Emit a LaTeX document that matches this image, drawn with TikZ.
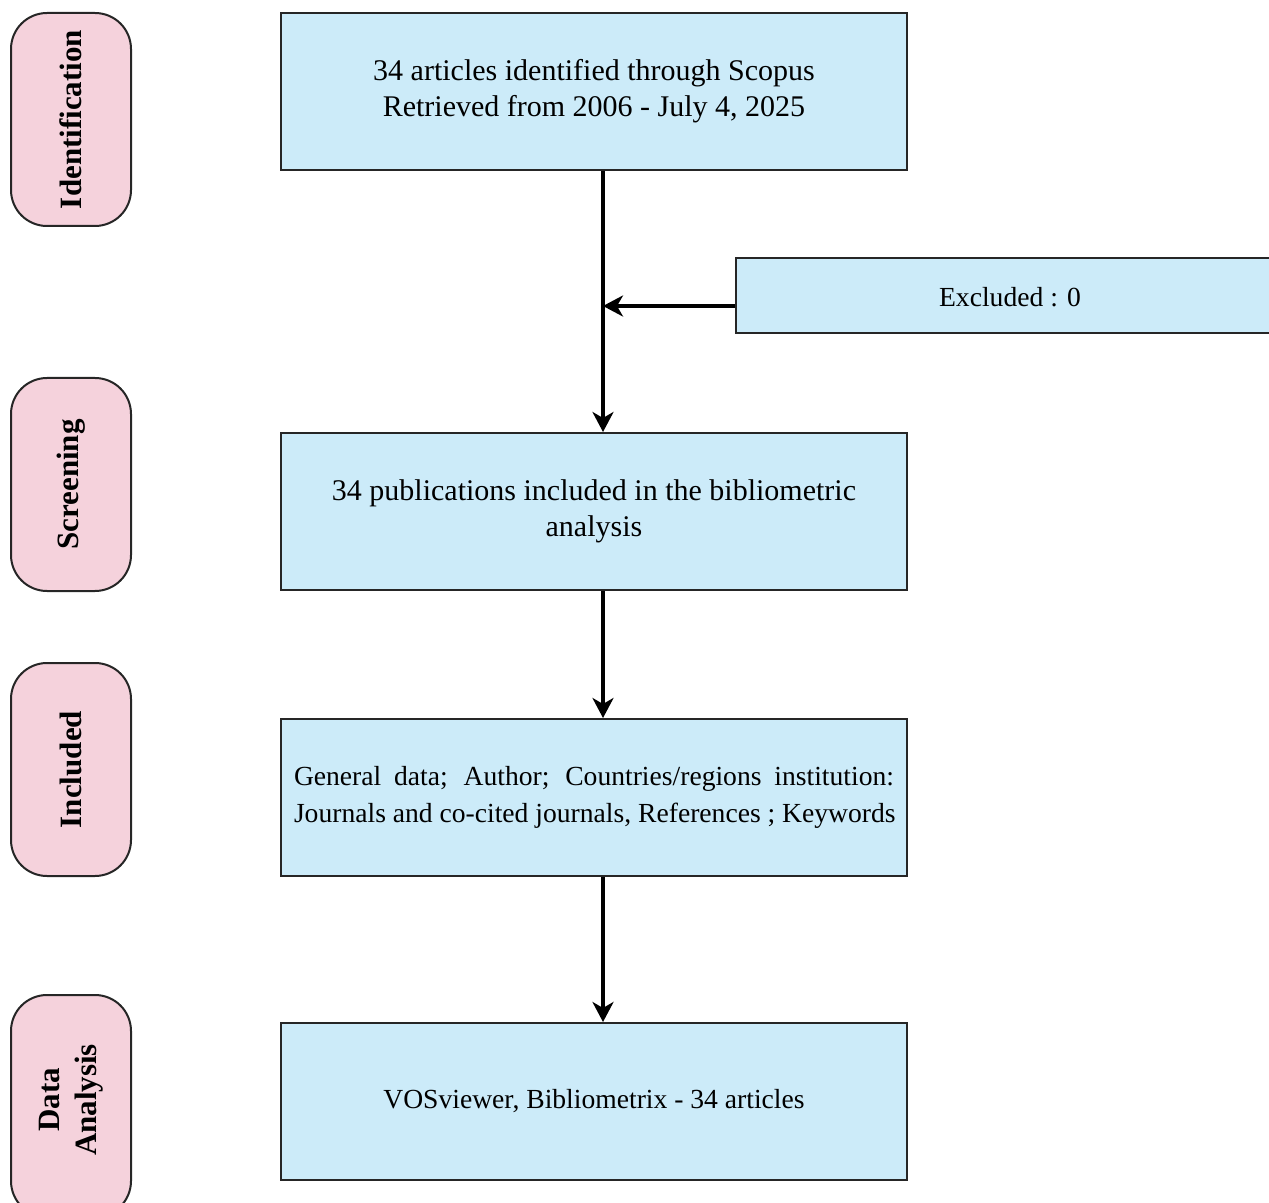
\documentclass[tikz,border=0pt]{standalone}
\usepackage{fontspec}
\setmainfont{Liberation Serif}
\usetikzlibrary{arrows.meta}
\definecolor{boxblue}{RGB}{204,235,249}
\definecolor{pillpink}{RGB}{245,210,220}
\begin{document}
\begin{tikzpicture}[x=0.5pt,y=-0.5pt,
  flowbox/.style={draw=black!85,line width=1pt,fill=boxblue,minimum width=313pt,minimum height=78.5pt,inner sep=2pt,align=center,font=\fontsize{15}{18}\selectfont},
  pill/.style={draw=black!85,line width=1pt,fill=pillpink,rounded corners=18pt,minimum width=60pt,inner sep=0pt},
  pilltext/.style={rotate=90,align=center,font=\fontsize{15.5}{18.5}\selectfont\bfseries},
  arr/.style={line width=1.7pt,-{Stealth[length=10pt,width=10.5pt,inset=3pt]}}]
\useasboundingbox (0,0) rectangle (1269,1203);
% phase pills
\node[pill,minimum height=106.5pt] (p1) at (71,119.5) {};
\node[pilltext] (t1) at (p1.center) {Identification};
\node[pill,minimum height=106.5pt] (p2) at (71,484.5) {};
\node[pilltext] (t2) at (p2.center) {Screening};
\node[pill,minimum height=106.5pt] (p3) at (71,769.5) {};
\node[pilltext] (t3) at (p3.center) {Included};
\node[pill,minimum height=111pt] (p4) at (71,1106) {};
\node[pilltext] (t4) at (71,1100) {Data\\Analysis};
% flow boxes
\node[flowbox] (b1) at (594,91.5) {34 articles identified through Scopus\\Retrieved from 2006 - July 4, 2025};
\node[flowbox] (ex) at (1003.5,295.5) [minimum width=267.5pt,minimum height=37.5pt] {};
\node[font=\fontsize{13.8}{16}\selectfont] (ext) at (1010,297) {Excluded : 0};
\node[flowbox] (b2) at (594,511.5) {34 publications included in the bibliometric\\analysis};
\node[flowbox,font=\fontsize{13.8}{18.5}\selectfont] (b3) at (594,797.5) {\makebox[300pt][s]{General data; Author; Countries/regions institution:}\\\makebox[300pt][l]{Journals and co-cited journals, References ; Keywords}};
\node[flowbox,font=\fontsize{13.8}{16.5}\selectfont] (b4) at (594,1101.5) {VOSviewer, Bibliometrix - 34 articles};
% connectors
\coordinate (col) at (603,0);
\coordinate (exrow) at (0,306);
\draw[arr] (b1.south -| col) -- (b2.north -| col);
\draw[arr] (ex.west |- exrow) -- (col |- exrow);
\draw[arr] (b2.south -| col) -- (b3.north -| col);
\draw[arr] (b3.south -| col) -- (b4.north -| col);
\end{tikzpicture}
\end{document}
